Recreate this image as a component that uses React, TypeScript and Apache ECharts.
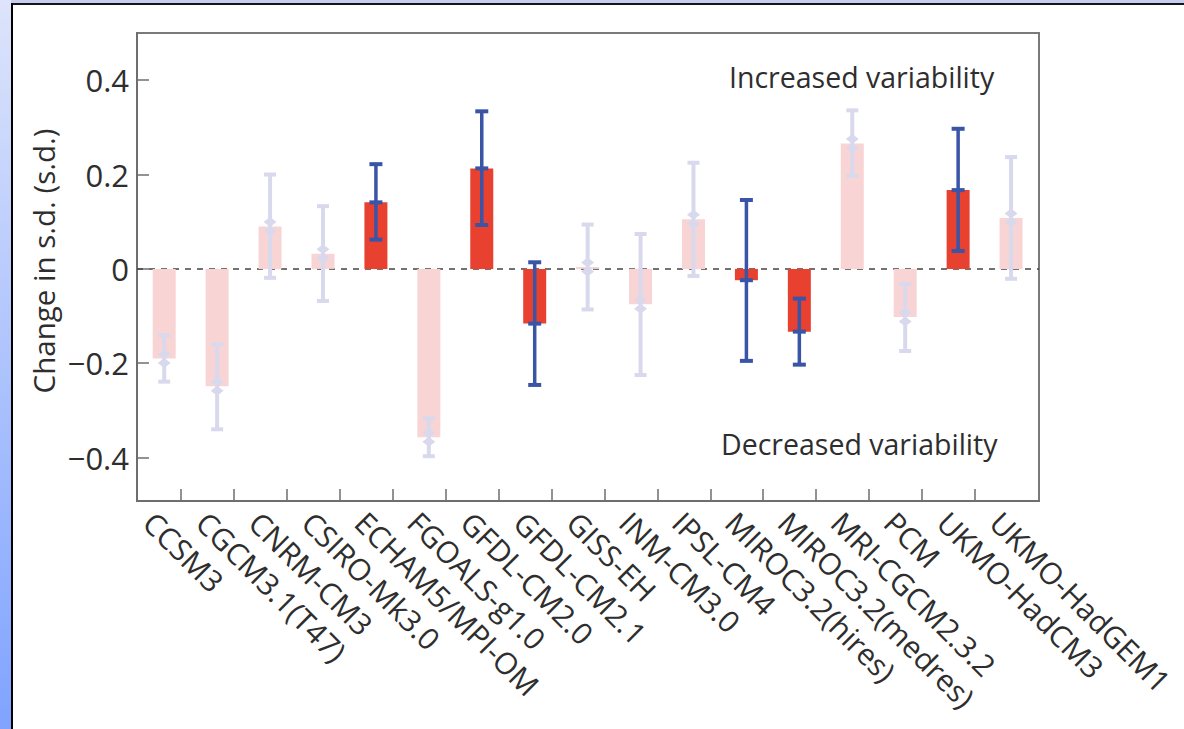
import React, { useEffect, useRef } from "react";
import * as echarts from "echarts";

const categories = [
  "CCSM3", "CGCM3.1(T47)", "CNRM-CM3", "CSIRO-Mk3.0", "ECHAM5/MPI-OM", "FGOALS-g1.0",
  "GFDL-CM2.0", "GFDL-CM2.1", "GISS-EH", "INM-CM3.0", "IPSL-CM4", "MIROC3.2(hires)",
  "MIROC3.2(medres)", "MRI-CGCM2.3.2", "PCM", "UKMO-HadCM3", "UKMO-HadGEM1",
];
const changeSD = [-0.19, -0.249, 0.09, 0.032, 0.141, -0.357, 0.213, -0.116, 0.004, -0.075, 0.105, -0.024, -0.133, 0.266, -0.102, 0.167, 0.108];
const errLow = [-0.239, -0.34, -0.019, -0.068, 0.062, -0.397, 0.093, -0.246, -0.086, -0.225, -0.015, -0.195, -0.203, 0.197, -0.174, 0.038, -0.021];
const errHigh = [-0.141, -0.16, 0.2, 0.133, 0.222, -0.317, 0.334, 0.014, 0.094, 0.074, 0.225, 0.146, -0.063, 0.336, -0.032, 0.297, 0.237];
const significant = [false, false, false, false, true, false, true, true, false, false, false, true, true, false, false, true, false];
const yTicks = [-0.4, -0.2, 0, 0.2, 0.4];
const tickedCategories = 16;

const FONT = "'Open Sans', sans-serif";
const TICK_OFF = 0.317;
const LABEL_OFF = -0.29;
const RED = "#e8412f";
const PINK = "#f9d4d4";
const BLUE = "#3a54a6";
const LAV = "#d9d9ee";
const TEXT = "#2e2e2e";

export default function App() {
  const ref = useRef<HTMLDivElement>(null);
  useEffect(() => {
    const chart = echarts.init(ref.current!, null, { renderer: "svg" });
    const barData = changeSD.map((v, i) => [i, v, significant[i] ? 1 : 0]);
    const errData = changeSD.map((v, i) => [i, errLow[i], errHigh[i], v, significant[i] ? 1 : 0]);
    chart.setOption({
      animation: false,
      grid: { left: 137, top: 33, width: 902, height: 468, show: true, borderColor: "#7a7a7a", borderWidth: 2 },
      xAxis: {
        type: "value", min: -0.514, max: 16.528,
        splitLine: { show: false },
        axisLine: { show: true, onZero: false, lineStyle: { color: "#6e6e6e", width: 2 } },
        axisTick: {
          show: true, inside: true, length: 12,
          customValues: categories.slice(0, tickedCategories).map((_, i) => i + TICK_OFF),
          lineStyle: { color: "#6e6e6e", width: 1.5 },
        },
        axisLabel: {
          customValues: categories.map((_, i) => i + LABEL_OFF),
          formatter: (v: number) => categories[Math.round(v - LABEL_OFF)] ?? "",
          rotate: -45, margin: 16, fontSize: 30, color: TEXT, fontFamily: FONT,
        },
      },
      yAxis: {
        type: "value", min: -0.492, max: 0.5,
        splitLine: { show: false },
        axisLine: { show: true, onZero: false, lineStyle: { color: "#6e6e6e", width: 2 } },
        axisTick: { show: true, inside: true, length: 12, customValues: yTicks, lineStyle: { color: "#6e6e6e", width: 1.5 } },
        axisLabel: {
          customValues: yTicks,
          formatter: (v: number) => (Math.abs(v) < 1e-9 ? "0" : v.toFixed(1).replace("-", "\u2212")),
          fontSize: 31, color: TEXT, fontFamily: FONT, margin: 8,
        },
      },
      graphic: [
        { type: "text", x: 43, y: 261, rotation: Math.PI / 2, style: { text: "Change in s.d. (s.d.)", font: `29.5px ${FONT}`, fill: TEXT, textAlign: "center", textVerticalAlign: "middle" } },
        { type: "text", x: 729, y: 77, style: { text: "Increased variability", font: `28.5px ${FONT}`, fill: TEXT, textAlign: "left", textVerticalAlign: "middle" } },
        { type: "text", x: 721, y: 444, style: { text: "Decreased variability", font: `28.5px ${FONT}`, fill: TEXT, textAlign: "left", textVerticalAlign: "middle" } },
      ],
      series: [
        {
          type: "custom",
          z: 2,
          data: barData,
          encode: { x: 0, y: 1 },
          renderItem: (params: any, api: any) => {
            const i = api.value(0), v = api.value(1), sig = api.value(2);
            const p0 = api.coord([i, 0]);
            const p1 = api.coord([i, v]);
            const w = 23;
            return {
              type: "rect",
              shape: { x: p0[0] - w / 2, y: Math.min(p0[1], p1[1]), width: w, height: Math.abs(p1[1] - p0[1]) },
              style: { fill: sig ? RED : PINK },
            };
          },
          markLine: {
            silent: true, symbol: "none", z: 1,
            label: { show: false },
            lineStyle: { color: "#444", width: 1.5, type: [6, 6] },
            data: [{ yAxis: 0 }],
          },
        },
        {
          type: "custom",
          z: 3,
          data: errData,
          encode: { x: 0, y: [1, 2] },
          renderItem: (params: any, api: any) => {
            const i = api.value(0), lo = api.value(1), hi = api.value(2), m = api.value(3), sig = api.value(4);
            const pl = api.coord([i, lo]);
            const ph = api.coord([i, hi]);
            const pm = api.coord([i, m]);
            const x = pl[0];
            const color = sig ? BLUE : LAV;
            const lw = sig ? 3.5 : 4;
            const capW = sig ? 13 : 12;
            const children: any[] = [
              { type: "line", shape: { x1: x, y1: ph[1], x2: x, y2: pl[1] }, style: { stroke: color, lineWidth: lw } },
              { type: "rect", shape: { x: x - capW / 2, y: ph[1] - 2, width: capW, height: 4 }, style: { fill: color } },
              { type: "rect", shape: { x: x - capW / 2, y: pl[1] - 2, width: capW, height: 4 }, style: { fill: color } },
            ];
            if (sig) {
              children.push({ type: "rect", shape: { x: x - capW / 2, y: pm[1] - 2, width: capW, height: 4 }, style: { fill: color } });
            } else {
              for (const d of [-4.5, 4.5]) {
                const cy = pm[1] + d;
                children.push({
                  type: "polygon",
                  shape: { points: [[x, cy - 5], [x + 6.5, cy], [x, cy + 5], [x - 6.5, cy]] },
                  style: { fill: color },
                });
              }
            }
            return { type: "group", children };
          },
        },
      ],
    });
    return () => chart.dispose();
  }, []);

  return (
    <div style={{ position: "fixed", left: 0, top: 0, width: 1184, height: 729, background: "#fff", overflow: "hidden" }}>
      <div style={{ position: "absolute", left: 0, top: 0, width: 1184, height: 3, background: "#c6cdef" }} />
      <div style={{ position: "absolute", left: 0, top: 0, width: 11, height: 729, background: "linear-gradient(#dde4fb, #7fa3ff)" }} />
      <div style={{ position: "absolute", left: 11, top: 3, width: 1173, height: 2, background: "#161616" }} />
      <div style={{ position: "absolute", left: 11, top: 3, width: 2, height: 726, background: "#000" }} />
      <div ref={ref} style={{ position: "absolute", left: 0, top: 0, width: 1184, height: 729 }} />
    </div>
  );
}
